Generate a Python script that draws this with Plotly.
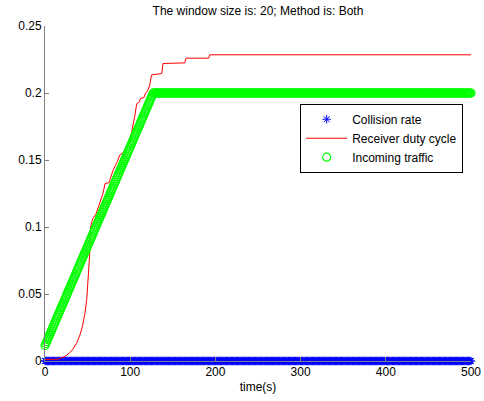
import plotly.graph_objects as go

# time grid (s) for the marker series, one sample per second
time = list(range(0, 501))

# Incoming traffic: linear ramp (t = 0..126 s), then plateau at 0.2
traffic_ramp = [
    0.0115, 0.0130, 0.0145, 0.0160, 0.0174, 0.0189, 0.0204, 0.0219, 0.0234, 0.0249,
    0.0263, 0.0278, 0.0293, 0.0308, 0.0323, 0.0338, 0.0352, 0.0367, 0.0382, 0.0397,
    0.0412, 0.0427, 0.0441, 0.0456, 0.0471, 0.0486, 0.0501, 0.0516, 0.0531, 0.0545,
    0.0560, 0.0575, 0.0590, 0.0605, 0.0620, 0.0634, 0.0649, 0.0664, 0.0679, 0.0694,
    0.0709, 0.0723, 0.0738, 0.0753, 0.0768, 0.0783, 0.0798, 0.0812, 0.0827, 0.0842,
    0.0857, 0.0872, 0.0887, 0.0902, 0.0916, 0.0931, 0.0946, 0.0961, 0.0976, 0.0991,
    0.1005, 0.1020, 0.1035, 0.1050, 0.1065, 0.1080, 0.1094, 0.1109, 0.1124, 0.1139,
    0.1154, 0.1169, 0.1183, 0.1198, 0.1213, 0.1228, 0.1243, 0.1258, 0.1273, 0.1287,
    0.1302, 0.1317, 0.1332, 0.1347, 0.1362, 0.1376, 0.1391, 0.1406, 0.1421, 0.1436,
    0.1451, 0.1465, 0.1480, 0.1495, 0.1510, 0.1525, 0.1540, 0.1554, 0.1569, 0.1584,
    0.1599, 0.1614, 0.1629, 0.1643, 0.1658, 0.1673, 0.1688, 0.1703, 0.1718, 0.1733,
    0.1747, 0.1762, 0.1777, 0.1792, 0.1807, 0.1822, 0.1836, 0.1851, 0.1866, 0.1881,
    0.1896, 0.1911, 0.1925, 0.1940, 0.1955, 0.1970, 0.1985,
]
traffic_plateau = [0.2] * (len(time) - len(traffic_ramp))
traffic = traffic_ramp + traffic_plateau

# Collision rate: zero throughout
collision = [0.0] * len(time)

# Receiver duty cycle (breakpoints)
duty_t = [0, 10, 16, 20, 25, 29, 33, 37, 41, 44, 47, 49, 50.5, 51.6, 52.5, 53, 53.5,
          55, 56, 60, 64, 68, 70.5, 75, 80, 82, 85, 88, 91, 93, 97, 100, 101.7, 104,
          105.6, 107.6, 111, 112, 116, 118, 120, 123, 125, 137, 138.5, 164, 165.5,
          192, 193.5, 500]
duty_v = [0.001, 0.001, 0.0015, 0.0025, 0.004, 0.0062, 0.009, 0.0132, 0.0194, 0.026,
          0.036, 0.046, 0.058, 0.068, 0.08, 0.092, 0.1, 0.104, 0.106, 0.11, 0.118,
          0.125, 0.1325, 0.133, 0.1425, 0.145, 0.149, 0.154, 0.155, 0.157, 0.16,
          0.163, 0.171, 0.178, 0.1835, 0.192, 0.1935, 0.196, 0.1965, 0.2, 0.201,
          0.206, 0.2135, 0.2145, 0.222, 0.2225, 0.226, 0.226, 0.2285, 0.2285]

x_ticks = [0, 100, 200, 300, 400, 500]
y_ticks = [0, 0.05, 0.1, 0.15, 0.2, 0.25]
y_tick_labels = ["0", "0.05", "0.1", "0.15", "0.2", "0.25"]

FONT = "Liberation Sans, Arial, sans-serif"
axis_font = dict(family=FONT, size=12, color="#000000")

fig = go.Figure()
fig.add_trace(go.Scatter(
    x=time, y=collision, mode="markers", name="Collision rate",
    marker=dict(symbol="asterisk-open", size=7, color="#0000ff",
                line=dict(color="#0000ff", width=1)),
    cliponaxis=False,
))
fig.add_trace(go.Scatter(
    x=duty_t, y=duty_v, mode="lines", name="Receiver duty cycle",
    line=dict(color="#ff0000", width=1),
    cliponaxis=False,
))
fig.add_trace(go.Scatter(
    x=time, y=traffic, mode="markers", name="Incoming traffic",
    marker=dict(symbol="circle-open", size=8, color="#00ff00",
                line=dict(color="#00ff00", width=1.2)),
    cliponaxis=False,
))

fig.update_layout(
    width=484, height=401,
    margin=dict(l=45, r=13, t=26, b=40, autoexpand=False),
    paper_bgcolor="white", plot_bgcolor="white",
    font=axis_font,
    title=dict(text="The window size is: 20; Method is: Both", x=0.533, xanchor="center",
               y=0.972, yanchor="middle", automargin=False,
               font=dict(family=FONT, size=12, color="#000000")),
    showlegend=True,
    legend=dict(x=0.599, y=0.768, xanchor="left", yanchor="top",
                bgcolor="white", bordercolor="#000000", borderwidth=1,
                font=dict(family=FONT, size=12, color="#000000"),
                itemwidth=41, tracegroupgap=0),
    xaxis=dict(range=[0, 500], tickvals=x_ticks, ticks="inside", ticklen=4,
               tickcolor="#7f7f7f", showline=True, linecolor="#7f7f7f", linewidth=1,
               showgrid=False, zeroline=False, automargin=False,
               title=dict(text="time(s)", standoff=4, font=dict(family=FONT, size=12, color="#000000")),
               tickfont=axis_font),
    yaxis=dict(range=[0, 0.25], tickvals=y_ticks, ticktext=y_tick_labels, ticks="inside",
               ticklen=4, tickcolor="#7f7f7f", showline=True, linecolor="#7f7f7f",
               linewidth=1, showgrid=False, zeroline=False, automargin=False,
               tickfont=axis_font),
)

fig.write_html("out.html")
